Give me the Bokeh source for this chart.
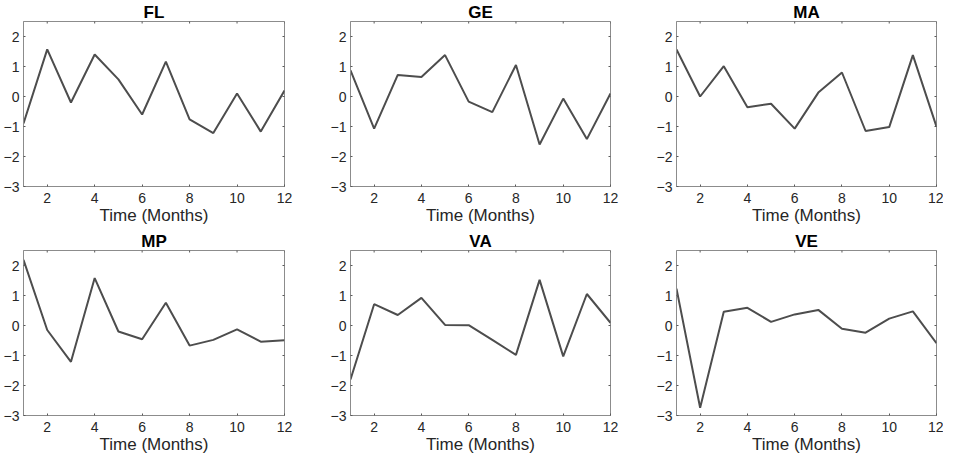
import math
from bokeh.plotting import figure
from bokeh.layouts import column, row
from bokeh.models import Range1d, FixedTicker
from bokeh.embed import file_html
from bokeh.resources import INLINE

months = list(range(1, 13))
fl = [-0.90, 1.57, -0.20, 1.40, 0.57, -0.60, 1.16, -0.76, -1.22, 0.10, -1.17, 0.20]
ge = [0.87, -1.07, 0.72, 0.65, 1.38, -0.17, -0.52, 1.05, -1.60, -0.07, -1.42, 0.10]
ma = [1.57, 0.00, 1.01, -0.36, -0.24, -1.07, 0.13, 0.80, -1.15, -1.02, 1.38, -1.01]
mp = [2.19, -0.15, -1.21, 1.58, -0.20, -0.46, 0.76, -0.67, -0.48, -0.13, -0.54, -0.49]
va = [-1.80, 0.71, 0.35, 0.92, 0.02, 0.01, -0.48, -0.98, 1.52, -1.03, 1.05, 0.09]
ve = [1.23, -2.74, 0.46, 0.59, 0.12, 0.37, 0.52, -0.11, -0.24, 0.23, 0.47, -0.59]

titles = ["FL", "GE", "MA", "MP", "VA", "VE"]
series = [fl, ge, ma, mp, va, ve]
x_ticks = [2, 4, 6, 8, 10, 12]
y_ticks = [-3, -2, -1, 0, 1, 2]
x_label = "Time (Months)"
X_MIN, X_MAX = 1, 12
Y_MIN, Y_MAX = -3, 2.5

FONT = "Liberation Sans"
FRAME = "#8c8c8c"
TICK = "#5a5a5a"
LINE = "#4d4d4d"
TEXT = "#262626"

TOP = 18
BOTTOM = 43
ROW_H = 229


def make(title, ys, width, left, right):
    p = figure(width=width, height=ROW_H, output_backend="svg", toolbar_location=None,
               x_range=Range1d(X_MIN, X_MAX), y_range=Range1d(Y_MIN, Y_MAX),
               min_border_left=left, min_border_right=right,
               min_border_top=TOP, min_border_bottom=BOTTOM,
               title=title, x_axis_label=x_label)
    p.title.align = "center"
    p.title.text_font = FONT
    p.title.text_font_size = "17px"
    p.title.text_font_style = "bold"
    p.title.text_color = "black"
    p.title.standoff = 0
    p.title.offset = 0
    p.xgrid.visible = False
    p.ygrid.visible = False
    p.outline_line_color = FRAME
    p.background_fill_color = "white"
    p.border_fill_color = "white"

    p.xaxis.ticker = FixedTicker(ticks=x_ticks)
    p.yaxis.ticker = FixedTicker(ticks=y_ticks)
    for ax in p.xaxis + p.yaxis:
        ax.axis_line_color = FRAME
        ax.major_tick_line_color = TICK
        ax.major_tick_in = 2
        ax.major_tick_out = 0
        ax.minor_tick_line_color = None
        ax.major_label_text_font = FONT
        ax.major_label_text_font_size = "14px"
        ax.major_label_text_color = TEXT
    p.yaxis.major_label_standoff = 4
    p.xaxis.major_label_standoff = 6
    p.xaxis.axis_label_standoff = 0
    p.xaxis.axis_label_text_font = FONT
    p.xaxis.axis_label_text_font_size = "17px"
    p.xaxis.axis_label_text_font_style = "normal"
    p.xaxis.axis_label_text_color = TEXT

    # mirrored inward ticks on top and right edges (markers clipped by the frame)
    p.scatter(x=x_ticks, y=[Y_MAX] * len(x_ticks), marker="dash", angle=math.pi / 2,
              size=4, line_color=TICK, line_width=1)
    p.scatter(x=[X_MAX] * len(y_ticks), y=y_ticks, marker="dash",
              size=4, line_color=TICK, line_width=1)

    p.line(months, ys, line_color=LINE, line_width=2)
    return p


widths = [(327, 21, 43), (326, 21, 43), (290, 21, 7)]
figs = []
for i, (t, ys) in enumerate(zip(titles, series)):
    w, l, r = widths[i % 3]
    figs.append(make(t, ys, w, l, r))

layout = column(row(*figs[:3]), row(*figs[3:]))
open("out.html", "w").write(file_html(layout, INLINE))
